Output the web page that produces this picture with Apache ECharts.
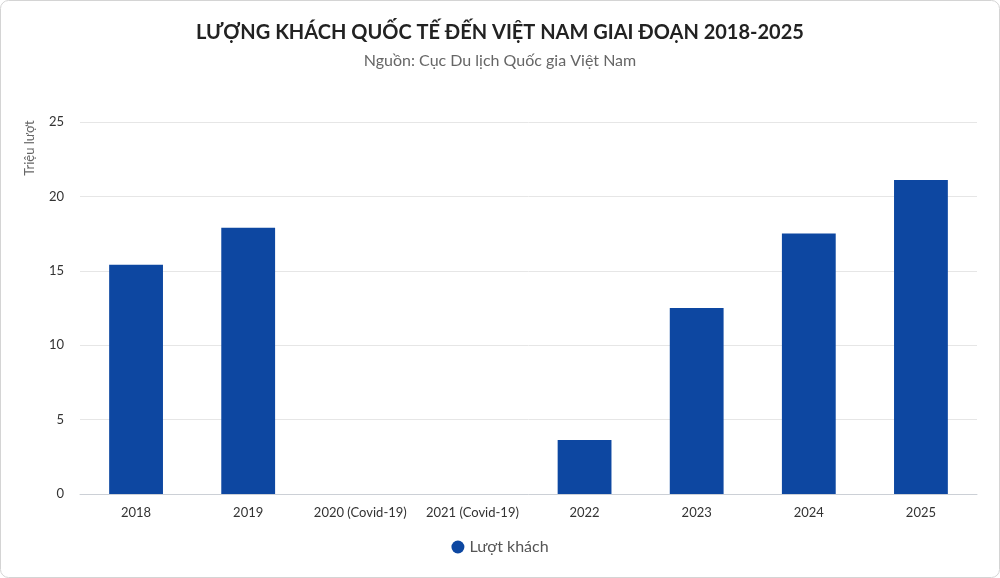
<!DOCTYPE html>
<html>
<head>
<meta charset="utf-8">
<script src="https://cdn.jsdelivr.net/npm/echarts@6/dist/echarts.min.js"></script>
<style>
  html, body { margin: 0; padding: 0; background: #fff; }
  #main { width: 1000px; height: 578px; }
</style>
</head>
<body>
<div id="main"></div>
<script>
var categories = ['2018', '2019', '2020 (Covid-19)', '2021 (Covid-19)', '2022', '2023', '2024', '2025'];
var visitors = [15.4, 17.9, null, null, 3.63, 12.5, 17.5, 21.1];
var seriesName = 'Lượt khách';
var yMax = 25;
var yStep = 5;

var myChart = echarts.init(document.getElementById('main'));
myChart.setOption({
    textStyle: { fontFamily: 'Lato, "Noto Sans", sans-serif' },
    title: {
        text: 'LƯỢNG KHÁCH QUỐC TẾ ĐẾN VIỆT NAM GIAI ĐOẠN 2018-2025',
        subtext: 'Nguồn: Cục Du lịch Quốc gia Việt Nam',
        left: 'center',
        top: 18,
        itemGap: 10,
        textStyle: { fontSize: 20, fontWeight: 'bold', color: '#222' },
        subtextStyle: { fontSize: 16, color: '#666' }
    },
    legend: {
        data: [seriesName],
        bottom: 18,
        icon: 'circle',
        itemWidth: 13,
        itemHeight: 13,
        textStyle: { fontSize: 16, color: '#555' }
    },
    grid: { left: 80, right: 23, top: 122, bottom: 84 },
    xAxis: {
        type: 'category',
        data: categories,
        axisTick: { show: false },
        axisLine: { lineStyle: { color: '#ccd0d6' } },
        axisLabel: { color: '#333', fontSize: 13, margin: 12, interval: 0 }
    },
    yAxis: {
        type: 'value',
        min: 0,
        max: yMax,
        interval: yStep,
        axisLabel: { color: '#333', fontSize: 13, margin: 16 },
        splitLine: { lineStyle: { color: '#e6e6e6' } }
    },
    graphic: [
        {
            type: 'text',
            x: 30,
            y: 148,
            rotation: Math.PI / 2,
            style: {
                text: 'Triệu lượt',
                fill: '#666',
                fontSize: 13,
                fontFamily: 'Lato, "Noto Sans", sans-serif',
                align: 'center',
                verticalAlign: 'middle'
            }
        },
        {
            type: 'rect',
            shape: { x: 0.5, y: 0.5, width: 999, height: 577, r: 8 },
            style: { fill: 'none', stroke: '#d4d4d4', lineWidth: 1 },
            silent: true
        }
    ],
    series: [{
        name: seriesName,
        type: 'bar',
        data: visitors,
        barWidth: '48%',
        itemStyle: { color: '#0d47a1' }
    }]
});
</script>
</body>
</html>
